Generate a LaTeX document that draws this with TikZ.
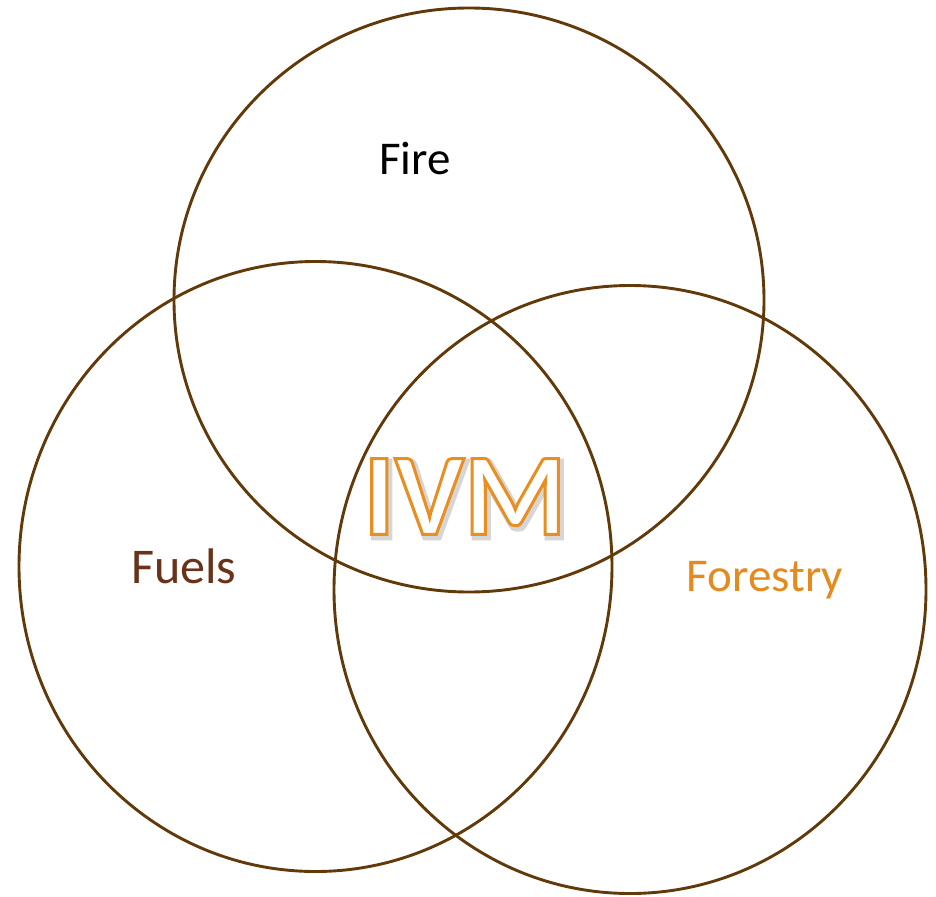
\documentclass[tikz,border=0pt]{standalone}
\usepackage{fontspec}
\setmainfont{Carlito}
\definecolor{ring}{RGB}{98,58,10}
\definecolor{fuelc}{RGB}{105,50,25}
\definecolor{forc}{RGB}{228,138,30}
\newcommand{\ivmstroke}[3]{\color{#1}\special{pdf:literal direct 2 Tr #2 w #3 RG}IVM\special{pdf:literal direct 0 Tr}}
\tikzset{
  ring/.style={draw=ring, line width=2.9pt},
  lbl/.style={inner sep=0pt, anchor=center},
}
\begin{document}
\begin{tikzpicture}[x=1pt,y=-1pt]
\useasboundingbox (0,0) rectangle (936,896);
\fill[white] (0,0) rectangle (936,896);
\draw[ring] (469,300) ellipse [x radius=295, y radius=292];
\draw[ring] (315.5,566.5) ellipse [x radius=296.5, y radius=305];
\draw[ring] (630,589.5) ellipse [x radius=296, y radius=304];
\node[lbl] (fire) at (415,158) {\fontsize{47}{50}\selectfont Fire};
\node[lbl, text=fuelc] (fuels) at (184,566) {\fontsize{50}{52}\selectfont Fuels};
\node[lbl, text=forc] (forestry) at (765,580) {\fontsize{47}{50}\selectfont Forestry};
\node[lbl] (ivm) at (465,498) {\fontsize{117}{120}\selectfont\bfseries
  \rlap{\kern2.5pt\raisebox{-3pt}{\ivmstroke{black!10}{6}{0.84 0.84 0.84}}}%
  \ivmstroke{white}{3}{0.91 0.56 0.12}};
\end{tikzpicture}
\end{document}
